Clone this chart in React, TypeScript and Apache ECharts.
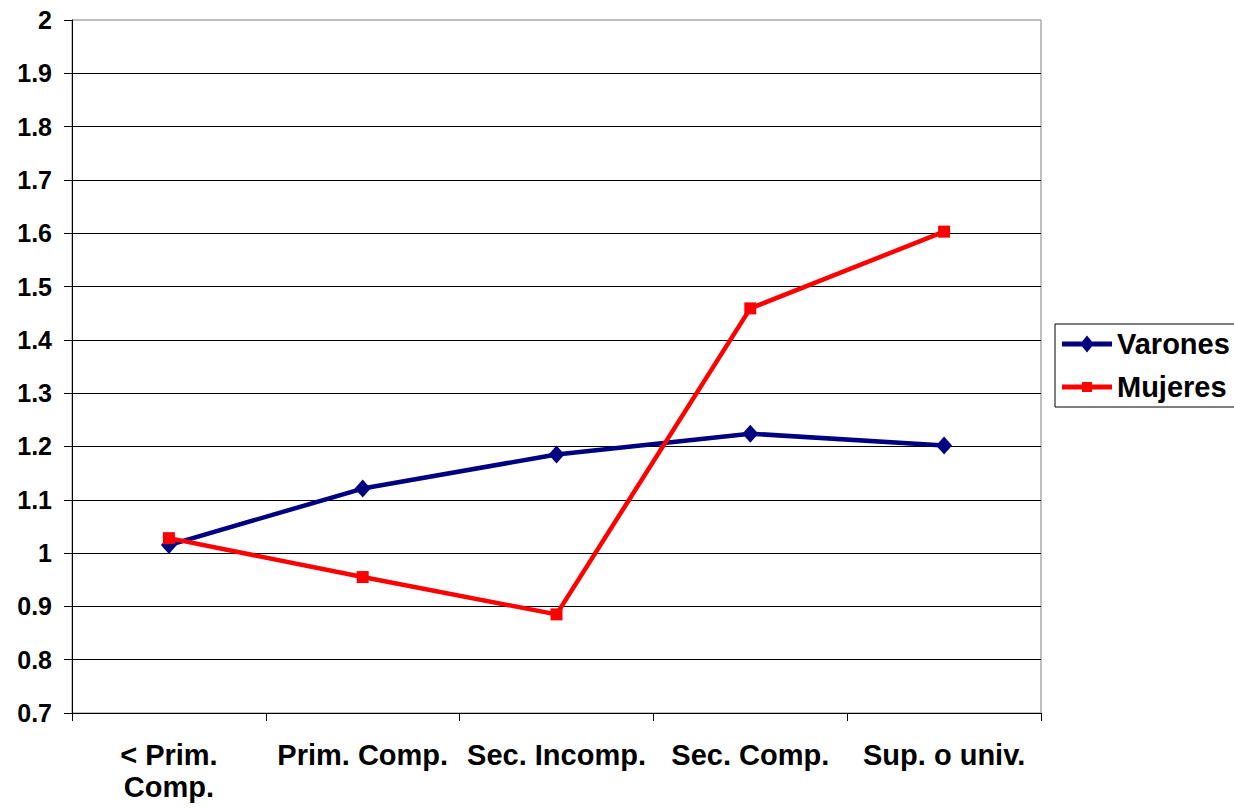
import React, { useEffect, useRef } from "react";
import * as echarts from "echarts";

const categories = ["< Prim. Comp.", "Prim. Comp.", "Sec. Incomp.", "Sec. Comp.", "Sup. o univ."];
const varones = [1.015, 1.121, 1.185, 1.224, 1.202];
const mujeres = [1.028, 0.955, 0.885, 1.459, 1.603];
const seriesNames = ["Varones", "Mujeres"];

const FONT = "'Liberation Sans', Arial, Helvetica, sans-serif";

const ICON_DIAMOND_LINE =
  "path://M0 6 H20.06 L25 0 L29.94 6 H50 V11 H29.94 L25 17 L20.06 11 H0 Z";
const ICON_SQUARE_LINE =
  "path://M0 2.5 H20 V0 H30 V2.5 H50 V7.5 H30 V10 H20 V7.5 H0 Z";

export default function App() {
  const ref = useRef<HTMLDivElement>(null);
  useEffect(() => {
    if (!ref.current) return;
    const chart = echarts.init(ref.current, null, { renderer: "svg" });
    chart.setOption({
      animation: false,
      backgroundColor: "#ffffff",
      textStyle: { fontFamily: FONT },
      grid: {
        left: 72,
        right: 193,
        top: 20,
        bottom: 95,
        show: true,
        borderColor: "#808080",
        borderWidth: 1,
        backgroundColor: "transparent",
      },
      legend: {
        orient: "vertical",
        left: 1055,
        top: 324,
        padding: [5, 30, 5, 7],
        itemGap: 13,
        itemWidth: 50,
        itemHeight: 17,
        borderColor: "#000000",
        borderWidth: 1,
        backgroundColor: "#ffffff",
        textStyle: {
          fontFamily: FONT,
          fontWeight: "bold",
          fontSize: 29,
          lineHeight: 30,
          color: "#000",
        },
        data: [
          { name: seriesNames[0], icon: ICON_DIAMOND_LINE },
          { name: seriesNames[1], icon: ICON_SQUARE_LINE },
        ],
      },
      xAxis: {
        type: "category",
        data: categories,
        boundaryGap: true,
        axisLine: { show: true, lineStyle: { color: "#000", width: 1 } },
        axisTick: { show: true, length: 8, inside: false, lineStyle: { color: "#000" } },
        axisLabel: {
          margin: 26,
          fontFamily: FONT,
          fontWeight: "bold",
          fontSize: 29,
          lineHeight: 32,
          color: "#000",
          interval: 0,
          formatter: (v: string) => (v === "< Prim. Comp." ? "< Prim.\nComp." : v),
        },
        splitLine: { show: false },
      },
      yAxis: {
        type: "value",
        min: 0.7,
        max: 2,
        interval: 0.1,
        axisLine: { show: true, lineStyle: { color: "#000", width: 1 } },
        axisTick: { show: true, length: 8, inside: false, lineStyle: { color: "#000" } },
        axisLabel: {
          margin: 20,
          fontFamily: FONT,
          fontWeight: "bold",
          fontSize: 25,
          color: "#000",
          formatter: (v: number) => String(Math.round(v * 10) / 10),
        },
        splitLine: {
          show: true,
          showMinLine: false,
          showMaxLine: false,
          lineStyle: { color: "#000", width: 1 },
        },
      },
      series: [
        {
          name: seriesNames[0],
          type: "line",
          data: varones,
          symbol: "diamond",
          symbolSize: [16, 18],
          color: "#000080",
          lineStyle: { color: "#000080", width: 4.5 },
          itemStyle: { color: "#000080" },
          z: 2,
        },
        {
          name: seriesNames[1],
          type: "line",
          data: mujeres,
          symbol: "rect",
          symbolSize: 12,
          color: "#ff0000",
          lineStyle: { color: "#ff0000", width: 4.5 },
          itemStyle: { color: "#ff0000" },
          z: 3,
        },
      ],
    });
    return () => chart.dispose();
  }, []);
  return (
    <div
      ref={ref}
      style={{ position: "fixed", left: 0, top: 0, width: 1234, height: 808, background: "#fff" }}
    />
  );
}
